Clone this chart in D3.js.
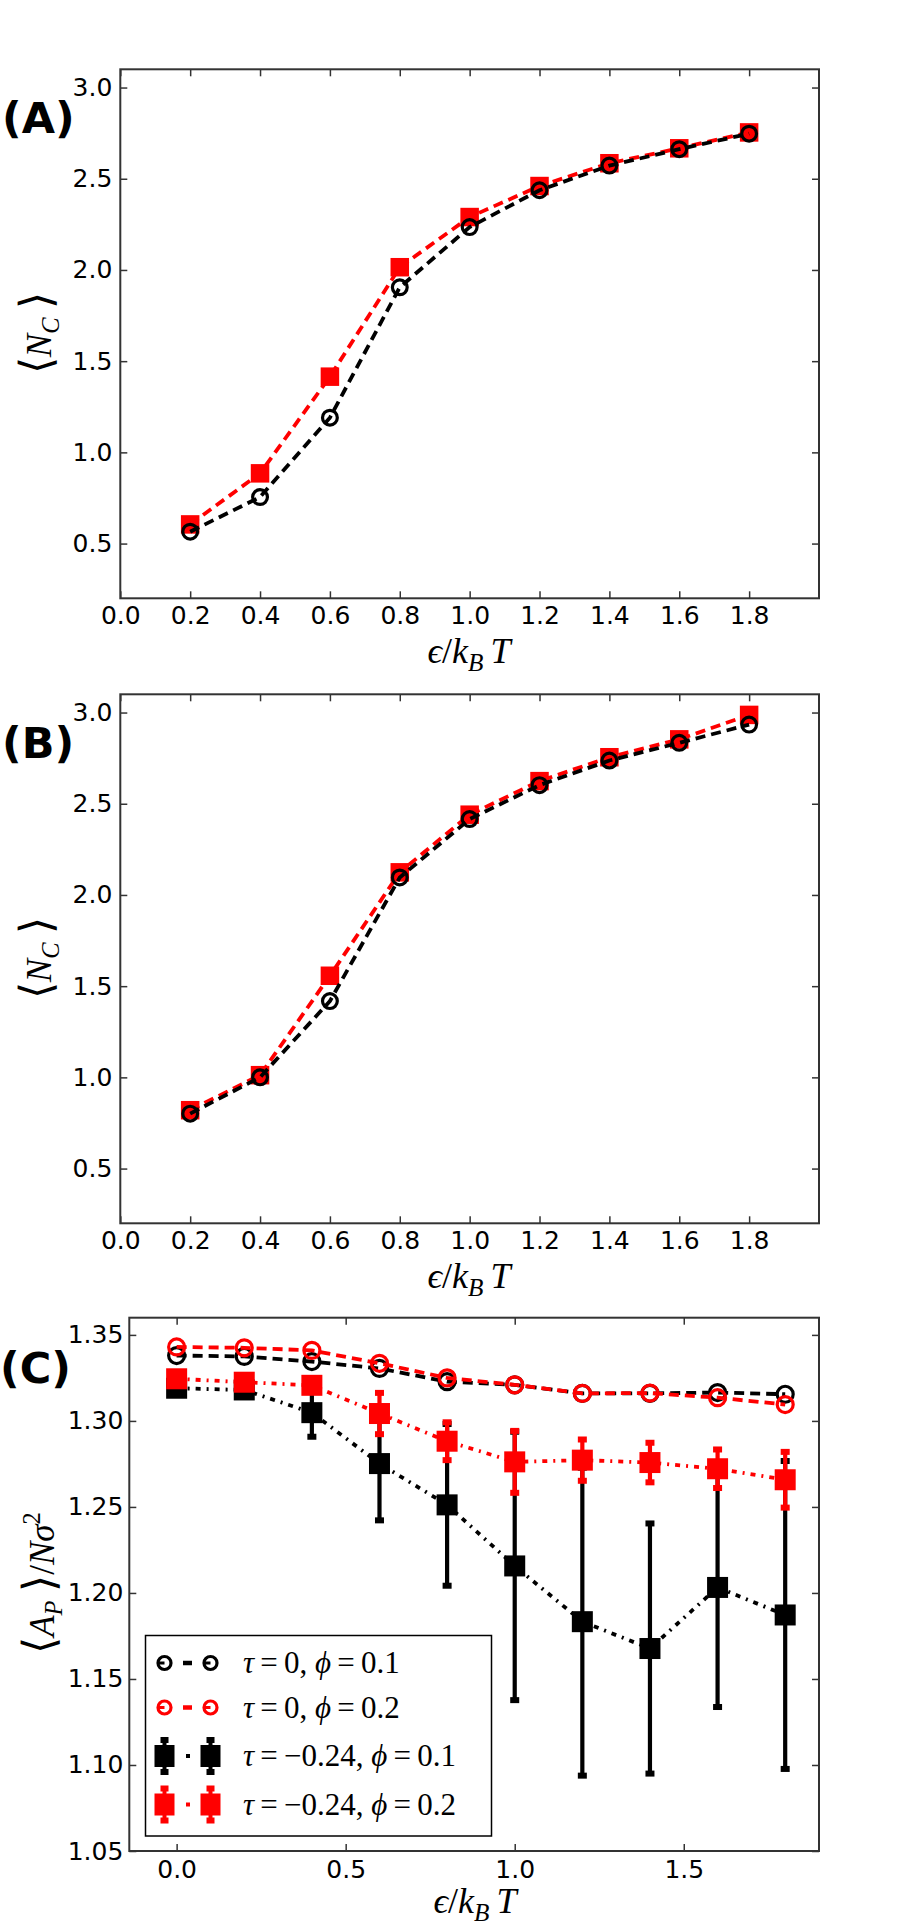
<!DOCTYPE html>
<html>
<head>
<meta charset="utf-8">
<script src="https://cdn.jsdelivr.net/npm/d3@7"></script>
<style>
  body { margin: 0; background: #fff; }
</style>
</head>
<body>
<svg id="fig" width="910" height="1931"></svg>
<script>
// ---- data -------------------------------------------------------------
var epsAB = [0.2, 0.4, 0.6, 0.8, 1.0, 1.2, 1.4, 1.6, 1.8];
var ncA_black = [0.565, 0.755, 1.19, 1.905, 2.235, 2.437, 2.572, 2.662, 2.747];
var ncA_red   = [0.605, 0.885, 1.415, 2.015, 2.29, 2.46, 2.585, 2.667, 2.754];
var ncB_black = [0.801, 1.0, 1.418, 2.096, 2.416, 2.602, 2.737, 2.834, 2.934];
var ncB_red   = [0.82, 1.012, 1.557, 2.124, 2.44, 2.624, 2.755, 2.853, 2.987];

var epsC = [0.0, 0.2, 0.4, 0.6, 0.8, 1.0, 1.2, 1.4, 1.6, 1.8];
var ap_t0_p01 = [1.338, 1.3375, 1.3345, 1.3305, 1.3228, 1.321, 1.316, 1.316, 1.3165, 1.3155];
var ap_t0_p02 = [1.343, 1.3425, 1.341, 1.3335, 1.325, 1.321, 1.316, 1.3162, 1.3135, 1.3095];
var ap_t24_p01 = [1.319, 1.318, 1.3048, 1.2752, 1.2512, 1.2157, 1.1833, 1.1677, 1.2032, 1.1872];
var ap_t24_p01_err = [0.002, 0.003, 0.014, 0.033, 0.047, 0.078, 0.0895, 0.0727, 0.0695, 0.0895];
var ap_t24_p02 = [1.3245, 1.3225, 1.3207, 1.3043, 1.2882, 1.2762, 1.2772, 1.2758, 1.2722, 1.2658];
var ap_t24_p02_err = [0.002, 0.002, 0.003, 0.012, 0.011, 0.018, 0.012, 0.0115, 0.0112, 0.0162];

var xTicksAB = [0.0, 0.2, 0.4, 0.6, 0.8, 1.0, 1.2, 1.4, 1.6, 1.8];
var yTicksAB = [0.5, 1.0, 1.5, 2.0, 2.5, 3.0];
var xTicksC = [0.0, 0.5, 1.0, 1.5];
var yTicksC = [1.05, 1.10, 1.15, 1.20, 1.25, 1.30, 1.35];

var legendLabels = [
  [{t: 'τ', i: 1}, {t: '\u2009=\u20090, '}, {t: 'ϕ', i: 1}, {t: '\u2009=\u20090.1'}],
  [{t: 'τ', i: 1}, {t: '\u2009=\u20090, '}, {t: 'ϕ', i: 1}, {t: '\u2009=\u20090.2'}],
  [{t: 'τ', i: 1}, {t: '\u2009=\u2009\u22120.24, '}, {t: 'ϕ', i: 1}, {t: '\u2009=\u20090.1'}],
  [{t: 'τ', i: 1}, {t: '\u2009=\u2009\u22120.24, '}, {t: 'ϕ', i: 1}, {t: '\u2009=\u20090.2'}]
];

// ---- helpers ----------------------------------------------------------
var SANS = "'DejaVu Sans', sans-serif";
var MATH = "'Liberation Serif', 'DejaVu Serif', serif";
var RED = '#ff0000';
var BLACK = '#000000';
var SPINE = '#333333';
var DASH = '10,6';
var DASHDOT = '5,6,2,6';
var LW = 3.8;

var svg = d3.select('#fig');
svg.append('rect').attr('width', 910).attr('height', 1931).attr('fill', '#fff');

function mathText(g, parts, size) {
  var t = g.append('text')
    .attr('font-family', MATH)
    .attr('font-size', size)
    .attr('text-anchor', 'middle')
    .attr('fill', BLACK);
  var shift = 0;
  parts.forEach(function (p) {
    var s = t.append('tspan').text(p.t);
    var target = p.sub ? size * 0.22 : (p.sup ? -size * 0.4 : 0);
    if (target !== shift) { s.attr('dy', target - shift); shift = target; }
    if (p.i) { s.attr('font-style', 'italic'); }
    if (p.sub || p.sup) { s.attr('font-size', size * 0.7); }
    if (p.big) { s.attr('font-size', size * p.big).attr('font-weight', 200); }
    if (p.f) { s.attr('font-family', p.f); }
  });
  return t;
}

function styleAxis(sel, fontSize) {
  sel.select('.domain').remove();
  sel.selectAll('.tick line').attr('stroke', SPINE).attr('stroke-width', 1.5);
  sel.selectAll('.tick text')
    .attr('font-family', SANS)
    .attr('font-size', fontSize)
    .attr('fill', BLACK);
}

function frame(cfg) {
  var g = svg.append('g');
  var x = d3.scaleLinear().domain(cfg.xDomain).range([cfg.left, cfg.right]);
  var y = d3.scaleLinear().domain(cfg.yDomain).range([cfg.bottom, cfg.top]);

  g.append('g').attr('transform', 'translate(0,' + cfg.bottom + ')')
    .call(d3.axisBottom(x).tickValues(cfg.xTicks).tickSizeInner(-7).tickSizeOuter(0)
      .tickPadding(cfg.xPad).tickFormat(d3.format('.1f')))
    .call(styleAxis, cfg.fontSize);
  g.append('g').attr('transform', 'translate(0,' + cfg.top + ')')
    .call(d3.axisTop(x).tickValues(cfg.xTicks).tickSizeInner(-7).tickSizeOuter(0)
      .tickFormat(function () { return ''; }))
    .call(styleAxis, cfg.fontSize);
  g.append('g').attr('transform', 'translate(' + cfg.left + ',0)')
    .call(d3.axisLeft(y).tickValues(cfg.yTicks).tickSizeInner(-7).tickSizeOuter(0)
      .tickPadding(cfg.yPad).tickFormat(d3.format(cfg.yFormat)))
    .call(styleAxis, cfg.fontSize);
  g.append('g').attr('transform', 'translate(' + cfg.right + ',0)')
    .call(d3.axisRight(y).tickValues(cfg.yTicks).tickSizeInner(-7).tickSizeOuter(0)
      .tickFormat(function () { return ''; }))
    .call(styleAxis, cfg.fontSize);

  g.append('rect')
    .attr('x', cfg.left).attr('y', cfg.top)
    .attr('width', cfg.right - cfg.left).attr('height', cfg.bottom - cfg.top)
    .attr('fill', 'none').attr('stroke', SPINE).attr('stroke-width', 2);

  var plot = g.append('g');
  return { g: g, plot: plot, x: x, y: y };
}

function drawLine(p, xs, ys, color, dash) {
  var line = d3.line().x(function (d) { return p.x(d[0]); }).y(function (d) { return p.y(d[1]); });
  p.plot.append('path')
    .datum(d3.zip(xs, ys))
    .attr('d', line)
    .attr('fill', 'none')
    .attr('stroke', color)
    .attr('stroke-width', LW)
    .attr('stroke-dasharray', dash);
}

function drawCircles(p, xs, ys, color, r, sw) {
  p.plot.append('g').selectAll('circle')
    .data(d3.zip(xs, ys))
    .enter().append('circle')
    .attr('cx', function (d) { return p.x(d[0]); })
    .attr('cy', function (d) { return p.y(d[1]); })
    .attr('r', r)
    .attr('fill', 'none')
    .attr('stroke', color)
    .attr('stroke-width', sw);
}

function drawSquares(p, xs, ys, color, size) {
  p.plot.append('g').selectAll('rect')
    .data(d3.zip(xs, ys))
    .enter().append('rect')
    .attr('x', function (d) { return p.x(d[0]) - size / 2; })
    .attr('y', function (d) { return p.y(d[1]) - size / 2; })
    .attr('width', size).attr('height', size)
    .attr('fill', color);
}

function drawErrors(p, xs, ys, es, color) {
  var data = d3.zip(xs, ys, es);
  var gg = p.plot.append('g');
  gg.selectAll('line')
    .data(data)
    .enter().append('line')
    .attr('x1', function (d) { return p.x(d[0]); })
    .attr('x2', function (d) { return p.x(d[0]); })
    .attr('y1', function (d) { return p.y(d[1] - d[2]); })
    .attr('y2', function (d) { return p.y(d[1] + d[2]); })
    .attr('stroke', color)
    .attr('stroke-width', 4.2);
  var caps = [];
  data.forEach(function (d) { caps.push([d[0], d[1] - d[2]]); caps.push([d[0], d[1] + d[2]]); });
  gg.selectAll('rect')
    .data(caps)
    .enter().append('rect')
    .attr('x', function (d) { return p.x(d[0]) - 4.5; })
    .attr('y', function (d) { return p.y(d[1]) - 3; })
    .attr('width', 9).attr('height', 6)
    .attr('fill', color);
}

var epsLabel = [{t: 'ϵ', i: 1}, {t: '/'}, {t: 'k', i: 1}, {t: 'B', i: 1, sub: 1}, {t: '\u2009T', i: 1}];
var ncLabel = [{t: '⟨', f: SANS, big: 1.25}, {t: 'N', i: 1}, {t: 'C', i: 1, sub: 1}, {t: '\u2009⟩', f: SANS, big: 1.25}];

function panelLetter(txt, x, y) {
  svg.append('text')
    .attr('x', x).attr('y', y)
    .attr('font-family', SANS)
    .attr('font-weight', 'bold')
    .attr('font-size', 43)
    .attr('fill', BLACK)
    .text(txt);
}

// ---- panels A and B ---------------------------------------------------
function panelNC(offset, blackVals, redVals, letter) {
  var p = frame({
    left: 120.3, right: 819, top: 69.3 + offset, bottom: 598.3 + offset,
    xDomain: [0, 2.0], yDomain: [0.2, 3.1],
    xTicks: xTicksAB, yTicks: yTicksAB, yFormat: '.1f',
    fontSize: 25, xPad: 8, yPad: 8
  });
  drawLine(p, epsAB, redVals, RED, DASH);
  drawSquares(p, epsAB, redVals, RED, 18.5);
  drawLine(p, epsAB, blackVals, BLACK, DASH);
  drawCircles(p, epsAB, blackVals, BLACK, 7.4, 3.2);

  mathText(svg.append('g').attr('transform', 'translate(469,' + (663 + offset) + ')'), epsLabel, 36);
  mathText(svg.append('g').attr('transform', 'translate(51,' + (333 + offset) + ') rotate(-90)'), ncLabel, 35);
  panelLetter(letter, 2, 133 + offset);
}

panelNC(0, ncA_black, ncA_red, '(A)');
panelNC(625, ncB_black, ncB_red, '(B)');

// ---- panel C ------------------------------------------------------------
var pc = frame({
  left: 129.3, right: 819, top: 1317.7, bottom: 1851,
  xDomain: [-0.14, 1.9], yDomain: [1.05, 1.36],
  xTicks: xTicksC, yTicks: yTicksC, yFormat: '.2f',
  fontSize: 25, xPad: 9, yPad: 6
});

drawLine(pc, epsC, ap_t0_p01, BLACK, DASH);
drawCircles(pc, epsC, ap_t0_p01, BLACK, 8, 3.2);
drawLine(pc, epsC, ap_t0_p02, RED, DASH);
drawCircles(pc, epsC, ap_t0_p02, RED, 8, 3.2);

drawErrors(pc, epsC, ap_t24_p01, ap_t24_p01_err, BLACK);
drawLine(pc, epsC, ap_t24_p01, BLACK, DASHDOT);
drawSquares(pc, epsC, ap_t24_p01, BLACK, 21);

drawErrors(pc, epsC, ap_t24_p02, ap_t24_p02_err, RED);
drawLine(pc, epsC, ap_t24_p02, RED, DASHDOT);
drawSquares(pc, epsC, ap_t24_p02, RED, 21);

mathText(svg.append('g').attr('transform', 'translate(475,1913)'), epsLabel, 36);
mathText(svg.append('g').attr('transform', 'translate(54,1583) rotate(-90)'),
  [{t: '⟨', f: SANS, big: 1.25}, {t: 'A', i: 1}, {t: 'P', i: 1, sub: 1}, {t: '\u2009⟩', f: SANS, big: 1.25},
   {t: '/'}, {t: 'N', i: 1}, {t: 'σ', i: 1}, {t: '2', sup: 1}], 35);
panelLetter('(C)', 0, 1383);

// ---- legend (panel C) ----------------------------------------------------
var legend = svg.append('g');
legend.append('rect')
  .attr('x', 145.5).attr('y', 1635.5).attr('width', 346).attr('height', 200.5)
  .attr('fill', '#fff').attr('stroke', BLACK).attr('stroke-width', 1.5);

var rowY = [1663, 1707.5, 1756, 1804.5];
var hx = [164.5, 210.5];
var legendStyle = [
  {color: BLACK, kind: 'circle'},
  {color: RED, kind: 'circle'},
  {color: BLACK, kind: 'square'},
  {color: RED, kind: 'square'}
];

legendStyle.forEach(function (s, i) {
  var yy = rowY[i];
  var row = legend.append('g');
  if (s.kind === 'circle') {
    row.append('line').attr('x1', 183).attr('x2', 192).attr('y1', yy).attr('y2', yy)
      .attr('stroke', s.color).attr('stroke-width', 4.5);
    hx.forEach(function (cx) {
      row.append('circle').attr('cx', cx).attr('cy', yy).attr('r', 6.5)
        .attr('fill', 'none').attr('stroke', s.color).attr('stroke-width', 3.2);
      row.append('line').attr('x1', cx - 6).attr('x2', cx).attr('y1', yy).attr('y2', yy)
        .attr('stroke', s.color).attr('stroke-width', 3);
    });
  } else {
    row.append('rect').attr('x', 186).attr('y', yy - 2).attr('width', 4).attr('height', 4).attr('fill', s.color);
    hx.forEach(function (cx) {
      row.append('line').attr('x1', cx).attr('x2', cx).attr('y1', yy - 17).attr('y2', yy + 17)
        .attr('stroke', s.color).attr('stroke-width', 4);
      row.append('rect').attr('x', cx - 4).attr('y', yy - 19).attr('width', 8).attr('height', 6).attr('fill', s.color);
      row.append('rect').attr('x', cx - 4).attr('y', yy + 13).attr('width', 8).attr('height', 6).attr('fill', s.color);
      row.append('rect').attr('x', cx - 10).attr('y', yy - 11).attr('width', 20).attr('height', 22).attr('fill', s.color);
    });
  }
  var t = mathText(row.append('g').attr('transform', 'translate(243,' + (yy + 10) + ')'), legendLabels[i], 31);
  t.attr('text-anchor', 'start');
});
</script>
</body>
</html>
